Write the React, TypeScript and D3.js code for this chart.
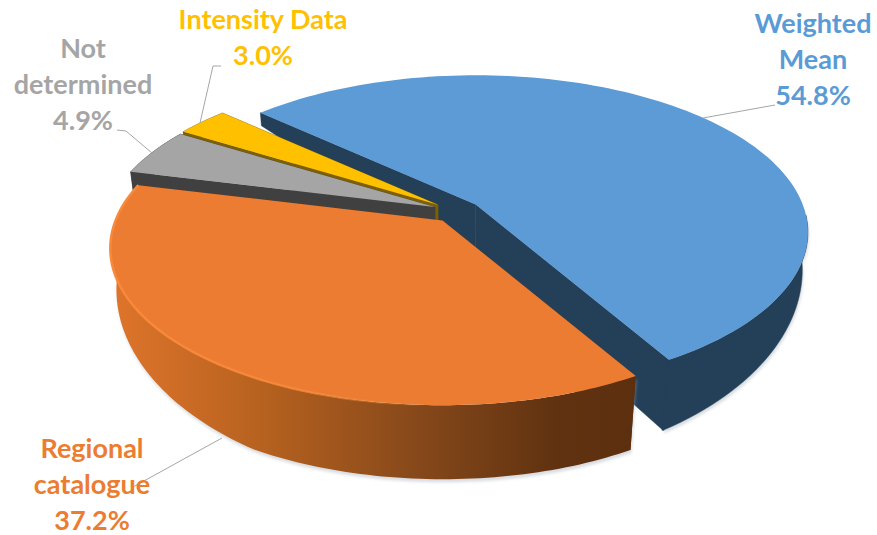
import React from "react";
import * as d3 from "d3";

const categories = ["Weighted Mean", "Regional catalogue", "Not determined", "Intensity Data"];
const values = [54.8, 37.2, 4.9, 3.0];
const topColors = ["#5b9bd5", "#eb7c30", "#a5a5a5", "#ffc000"];
const wallColors = ["#243f58", "#5f3110", "#404040", "#7f6000"];
const labelLines = [["Weighted", "Mean", "54.8%"], ["Regional", "catalogue", "37.2%"], ["Not", "determined", "4.9%"], ["Intensity Data", "3.0%"]];
const labelAnchors = [[813, 33], [92, 458], [83, 58], [263, 29]];
const leaderLines = [
  [[703, 118], [775, 105]],
  [[222, 438], [133, 487]],
  [[152, 153], [126, 131], [117, 130]],
  [[200, 123], [213, 66], [221, 66]],
];

const W = 877, H = 535;
const CX = 457, CY = 211.5, RX = 327, RY = 152, K = 0.177, EXPLODE = 24, TILT = 0.47;
const START = (-47.5 * Math.PI) / 180;

const depthOf = d3.scaleLinear().domain([115, 375]).range([13, 74]).clamp(true);
const pieGen = d3.pie<number>().sort(null).startAngle(START).endAngle(START + 2 * Math.PI);
const lineGen = d3.line<number[]>().x((d) => d[0]).y((d) => d[1]);

type Pt = number[];

function App() {
  const arcs = pieGen(values);
  const slices = arcs.map((a, i) => {
    const mid = (a.startAngle + a.endAngle) / 2;
    const ax = CX + EXPLODE * Math.sin(mid);
    const ay = CY - EXPLODE * TILT * Math.cos(mid);
    const proj = (t: number): Pt => {
      const u = Math.sin(t), v = -Math.cos(t), w = 1 - K * v;
      return [ax + (RX * u) / w, ay + (RY * v) / w];
    };
    const down = (p: Pt, extra = 0): Pt => {
      const d = depthOf(p[1]) + extra;
      return [CX + (p[0] - CX) * (1 - 0.0004 * d), p[1] + d];
    };
    const outer = d3.range(0, 121).map((k) => proj(a.startAngle + ((a.endAngle - a.startAngle) * k) / 120));
    const apex: Pt = [ax, ay];
    const apexDown = down(apex, i === 0 ? 25 : 0);
    const top = lineGen([apex, ...outer])! + "Z";
    // only the part of the rim that faces the viewer carries a wall
    const front = i < 2 ? outer.filter((p) => p[1] >= ay + 8) : outer;
    const outerWall = lineGen([...front, ...front.map((p) => down(p)).reverse()])! + "Z";
    const face1 = lineGen([apex, outer[0], down(outer[0]), apexDown])! + "Z";
    const face2 = lineGen([apex, outer[120], down(outer[120]), apexDown])! + "Z";
    const seam = lineGen([outer[120], down(outer[120])])!;
    const rim = lineGen(outer.filter((p) => p[0] < 430))!;
    return { i, top, outerWall, face1, face2, seam, rim, outer };
  });

  const order = [0, 3, 2, 1];
  return (
    <svg width={W} height={H} style={{ position: "absolute", left: 0, top: 0, background: "#fff" }}>
      <defs>
        <linearGradient id="orangeWall" gradientUnits="userSpaceOnUse" x1={108} x2={636} y1={0} y2={0}>
          <stop offset="0" stopColor="#e0752b" />
          <stop offset="0.3" stopColor="#b5611f" />
          <stop offset="0.6" stopColor="#84471a" />
          <stop offset="0.85" stopColor="#603210" />
          <stop offset="1" stopColor="#5c2f0f" />
        </linearGradient>
        <linearGradient id="rimFade" gradientUnits="userSpaceOnUse" x1={108} x2={430} y1={0} y2={0}>
          <stop offset="0" stopColor="#f8893a" />
          <stop offset="0.6" stopColor="#f8893a" stopOpacity={0.8} />
          <stop offset="1" stopColor="#f8893a" stopOpacity={0} />
        </linearGradient>
        <filter id="soft" x="-5%" y="-5%" width="110%" height="110%"><feGaussianBlur stdDeviation="0.5" /></filter>
        <filter id="shadow" x="-5%" y="-5%" width="110%" height="110%"><feGaussianBlur stdDeviation="1.5" /></filter>
      </defs>
      {order.map((i) => {
        const s = slices[i];
        return (
          <g key={categories[i]}>
            {i < 2 && (
              <path d={s.outerWall} fill="#9fa8b3" opacity={0.4} transform="translate(1,3)" filter="url(#shadow)" />
            )}
            {i === 1 ? (
              <>
                <path d={s.face1} fill={wallColors[i]} />
                <path d={s.face2} fill={wallColors[i]} />
                <path d={s.outerWall} fill="url(#orangeWall)" />
              </>
            ) : (
              <g stroke={wallColors[i]} strokeWidth={0.5} fill={wallColors[i]}>
                <path d={s.face1} />
                <path d={s.face2} />
                <path d={s.outerWall} />
                {i === 0 && <path d={s.seam} fill="none" strokeWidth={2.5} />}
              </g>
            )}
            <path d={s.top} fill={topColors[i]} filter={i < 2 ? "url(#soft)" : undefined} />
            {i === 1 && (
              <path d={s.rim} fill="none" stroke="url(#rimFade)" strokeWidth={2.5} filter="url(#soft)" />
            )}
          </g>
        );
      })}
      {leaderLines.map((pts, i) => (
        <path key={i} d={lineGen(pts)!} fill="none" stroke="#a6a6a6" strokeWidth={1} />
      ))}
      {labelLines.map((lines, i) => (
        <text key={i} textAnchor="middle" fontFamily="Lato, 'Open Sans', sans-serif" fontWeight={700} fontSize={27} fill={topColors[i]}>
          {lines.map((t, j) => (
            <tspan key={j} x={labelAnchors[i][0]} y={labelAnchors[i][1] + j * 36}>{t}</tspan>
          ))}
        </text>
      ))}
    </svg>
  );
}

export default App;
